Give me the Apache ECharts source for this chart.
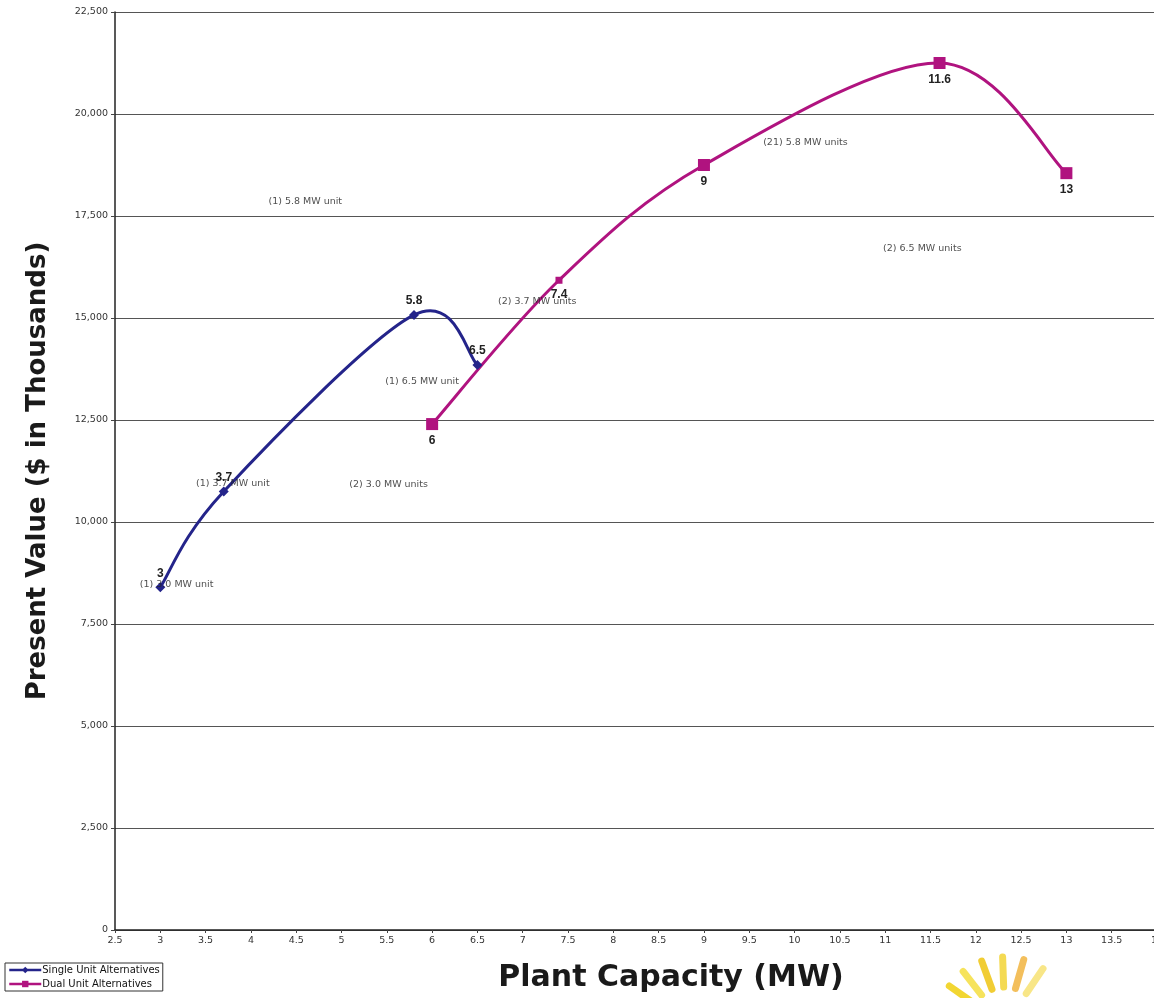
<!DOCTYPE html>
<html>
<head>
<meta charset="utf-8">
<script src="https://cdn.jsdelivr.net/npm/echarts@6/dist/echarts.min.js"></script>
<style>
html,body{margin:0;padding:0;background:#fff;overflow:hidden;}
#chart{width:1154px;height:998px;}
</style>
</head>
<body>
<div id="chart"></div>
<script>
// Single Unit Alternatives: [capacity MW, present value $K]
var singleX = [3, 3.7, 5.8, 6.5];
var singleY = [8400, 10750, 15075, 13850];
// Dual Unit Alternatives
var dualX = [6, 7.4, 9, 11.6, 13];
var dualY = [12400, 15925, 18750, 21250, 18550];
// Free text annotations: positions in data units
var noteText = ["(1) 5.8 MW unit", "(21) 5.8 MW units", "(2) 6.5 MW units", "(2) 3.7 MW units",
                "(1) 6.5 MW unit", "(2) 3.0 MW units", "(1) 3.7 MW unit", "(1) 3.0 MW unit"];
var noteX = [4.6, 10.12, 11.41, 7.16, 5.89, 5.52, 3.8, 3.18];
var noteY = [17850, 19300, 16700, 15400, 13450, 10925, 10950, 8475];
var seriesNames = ["Single Unit Alternatives", "Dual Unit Alternatives"];
var colors = ['#24248a', '#b0137f'];

var FONT = 'DejaVu Sans';
var chart = echarts.init(document.getElementById('chart'));
function pairs(xs, ys){ return xs.map(function(x,i){ return [x, ys[i]]; }); }
var notes = noteText.map(function(t,i){ return {value:[noteX[i], noteY[i]], name:t}; });
var dualData = pairs(dualX, dualY).map(function(p){
  return p[0] === 7.4 ? {value:p, symbolSize:7} : {value:p};
});

// Smooth curve (Catmull-Rom as cubic Bezier) through the points, mapped by the axes
function curveRenderer(xs, ys, color){
  return function(params, api){
    if (params.dataIndex !== 0) return null;
    var P = xs.map(function(x,i){ return api.coord([x, ys[i]]); });
    var n = P.length;
    var d = 'M' + P[0][0] + ' ' + P[0][1];
    for (var i = 0; i < n - 1; i++){
      var p0 = P[Math.max(i-1,0)], p1 = P[i], p2 = P[i+1], p3 = P[Math.min(i+2,n-1)];
      var c1x = p1[0] + (p2[0]-p0[0])/6, c1y = p1[1] + (p2[1]-p0[1])/6;
      var c2x = p2[0] - (p3[0]-p1[0])/6, c2y = p2[1] - (p3[1]-p1[1])/6;
      d += ' C' + c1x + ' ' + c1y + ' ' + c2x + ' ' + c2y + ' ' + p2[0] + ' ' + p2[1];
    }
    return {type:'path', shape:{pathData:d}, style:{fill:null, stroke:color, lineWidth:3}};
  };
}

// decorative partial logo (sun rays) at bottom-right
var rays = [];
var rayAngles = [200, 215, 232, 250, 268, 286, 304];
var rayColors = ['#f3dc3a', '#f1d21c', '#f5e04a', '#f0c81e', '#f3d640', '#f2b84a', '#f7e37a'];
rayAngles.forEach(function(a, i){
  var r = a * Math.PI / 180, cx = 1005, cy = 1025;
  rays.push({type:'line', shape:{x1: cx + Math.cos(r)*38, y1: cy + Math.sin(r)*38,
    x2: cx + Math.cos(r)*68, y2: cy + Math.sin(r)*68},
    style:{stroke: rayColors[i], lineWidth: 7, lineCap: 'round', opacity: 0.9}, silent: true});
});

var option = {
  animation: false,
  backgroundColor: '#fff',
  grid: {left: 115, width: 1042, top: 12, height: 918, containLabel: false, outerBoundsMode: 'none'},
  graphic: rays,
  xAxis: {
    type: 'value', min: 2.5, max: 14, interval: 0.5,
    axisLine: {lineStyle: {color: '#222', width: 1.5}},
    axisTick: {show: true, length: 3, lineStyle: {color: '#444'}},
    axisLabel: {color: '#333', fontSize: 9.5, fontFamily: FONT, margin: 6},
    splitLine: {show: false},
    name: 'Plant Capacity (MW)', nameLocation: 'middle', nameGap: 33,
    nameTextStyle: {fontSize: 30, fontWeight: 'bold', color: '#1a1a1a', fontFamily: FONT, padding: [0,0,0,70]}
  },
  yAxis: {
    type: 'value', min: 0, max: 22500, interval: 2500,
    axisLine: {show: true, lineStyle: {color: '#222', width: 1.5}},
    axisTick: {show: true, length: 4, lineStyle: {color: '#444'}},
    axisLabel: {color: '#333', fontSize: 9.5, fontFamily: FONT, margin: 7,
      formatter: function(v){ return v.toLocaleString('en-US'); }},
    splitLine: {show: true, lineStyle: {color: '#555', width: 1}},
    name: 'Present Value ($ in Thousands)', nameLocation: 'middle', nameGap: 64,
    nameTextStyle: {fontSize: 26, fontWeight: 'bold', color: '#1a1a1a', fontFamily: FONT}
  },
  legend: {
    left: 5, top: 963, orient: 'vertical', itemGap: 4, itemWidth: 32, itemHeight: 8,
    padding: [2, 3, 2, 3], borderColor: '#333', borderWidth: 1,
    textStyle: {fontSize: 10, color: '#111', fontFamily: FONT, padding: [0,0,0,-4]},
    data: [
      {name: seriesNames[0], lineStyle: {opacity: 1, width: 2.5, color: colors[0]}},
      {name: seriesNames[1], lineStyle: {opacity: 1, width: 2.5, color: colors[1]}}
    ]
  },
  series: [
    {
      name: seriesNames[0], type: 'line',
      data: pairs(singleX, singleY),
      symbol: 'diamond', symbolSize: 10,
      lineStyle: {color: colors[0], width: 3, opacity: 0},
      itemStyle: {color: colors[0]},
      label: {show: true, position: 'top', distance: 3, fontSize: 12, fontWeight: 'bold', color: '#222',
        fontFamily: 'Liberation Sans', formatter: function(p){ return String(p.value[0]); }},
      z: 4
    },
    {
      name: seriesNames[1], type: 'line',
      data: dualData,
      symbol: 'rect', symbolSize: 12,
      lineStyle: {color: colors[1], width: 3, opacity: 0},
      itemStyle: {color: colors[1]},
      label: {show: true, position: 'bottom', distance: 5, fontSize: 12, fontWeight: 'bold', color: '#222',
        fontFamily: 'Liberation Sans', formatter: function(p){ return String(p.value[0]); }},
      z: 4
    },
    {
      name: 'singleCurve', type: 'custom', data: pairs(singleX, singleY), silent: true, z: 3,
      renderItem: curveRenderer(singleX, singleY, colors[0])
    },
    {
      name: 'dualCurve', type: 'custom', data: pairs(dualX, dualY), silent: true, z: 3,
      renderItem: curveRenderer(dualX, dualY, colors[1])
    },
    {
      name: 'notes', type: 'scatter', data: notes, symbolSize: 0, silent: true,
      label: {show: true, position: 'inside', fontSize: 9.5, color: '#222', fontFamily: FONT,
        formatter: function(p){ return p.name; }},
      z: 5
    }
  ]
};
chart.setOption(option);
</script>
</body>
</html>
